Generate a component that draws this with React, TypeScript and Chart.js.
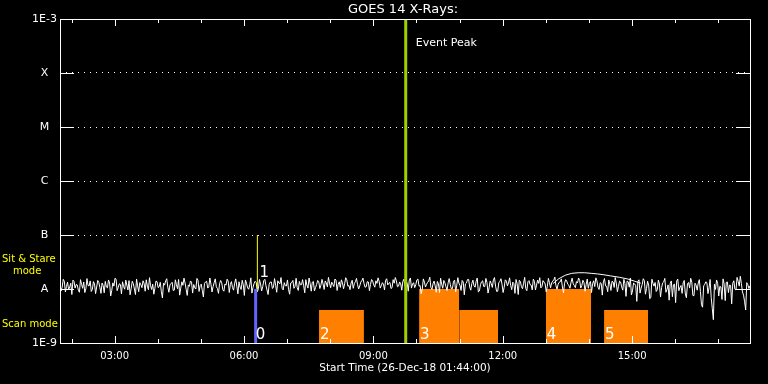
import { useEffect, useRef } from 'react';
import { Chart, registerables } from 'chart.js';

Chart.register(...registerables);

// ---- Time axis (hours of 26-Dec-18) ----
const START_HOUR = 1 + 44 / 60;
const END_HOUR = START_HOUR + 16;
const SAMPLE_STEP_HOURS = 0.05;
const FLUX_UNIT = 1e-9;

// GOES flux samples (units of 1e-9 W/m^2), every 3 minutes from 01:44
const FLUX_SAMPLES = [
  12.5, 10.8, 13.9, 11.2, 9.6, 12.8, 14.6, 10.4, 11.9, 8.7, 12.2, 13.5, 10.1, 11.6, 14.1, 9.8, 12.4, 10.9, 13.2, 8.3,
  11.7, 13.8, 10.5, 12.9, 9.4, 11.3, 15.2, 10.7, 12.1, 13.6, 9.9, 11.8, 14.3, 10.2, 12.6, 7.9, 11.4, 13.1, 10.6, 12.7,
  14.8, 9.7, 11.5, 12.3, 10.3, 13.7, 11.0, 8.9, 12.8, 14.2, 10.8, 11.9, 13.3, 9.5, 12.0, 15.0, 10.4, 11.7, 12.9, 7.6,
  11.2, 13.4, 12.1, 10.0, 14.5, 11.6, 9.3, 12.7, 13.9, 10.9, 12.3, 11.1, 15.4, 10.2, 12.5, 13.0, 9.1, 11.8, 14.0, 12.2,
  10.6, 12.8, 11.3, 13.6, 9.8, 12.0, 14.7, 10.5, 11.9, 8.4, 12.6, 13.2, 10.1, 12.4, 11.0, 15.1, 9.6, 12.2, 13.5, 10.8,
  11.7, 14.2, 12.5, 10.3, 13.1, 11.4, 9.7, 12.9, 14.4, 11.2, 10.6, 13.8, 12.0, 11.5, 14.9, 10.4, 12.7, 13.3, 9.2, 12.1,
  13.6, 11.8, 12.4, 14.1, 10.9, 12.8, 13.4, 11.1, 14.6, 12.2, 10.7, 13.0, 12.5, 14.8, 11.6, 12.9, 10.3, 13.7, 12.0, 11.4,
  14.3, 12.6, 11.0, 13.5, 12.2, 14.0, 10.8, 12.7, 13.9, 11.5, 12.3, 14.5, 11.9, 13.2, 10.6, 12.8, 14.2, 11.3, 12.5, 13.8,
  11.2, 12.9, 14.7, 10.4, 13.1, 12.0, 15.3, 11.6, 9.9, 13.4, 12.2, 14.1, 10.7, 12.6, 11.4, 13.8, 8.6, 12.3, 14.4, 11.0,
  13.0, 12.1, 10.2, 14.6, 11.7, 12.8, 9.4, 13.5, 12.4, 15.0, 10.9, 12.7, 11.5, 13.9, 8.8, 12.0, 14.2, 11.1, 13.3, 10.5,
  12.6, 14.8, 11.3, 9.1, 13.7, 12.2, 10.8, 14.0, 12.9, 11.6, 13.4, 8.3, 12.5, 14.5, 11.0, 12.8, 10.2, 13.6, 12.1, 9.6,
  13.9, 11.8, 12.7, 10.5, 14.3, 12.4, 11.2, 13.1, 12.9, 14.7, 11.5, 12.2, 13.6, 10.9, 12.8, 14.1, 11.7, 13.3, 12.5, 10.6,
  12.9, 14.4, 11.6, 13.2, 12.0, 10.3, 13.8, 12.6, 11.1, 14.2, 9.8, 12.7, 13.5, 11.4, 8.9, 12.3, 13.9, 10.7, 12.8, 11.2,
  13.4, 9.5, 12.6, 14.0, 10.8, 7.8, 12.9, 11.5, 13.7, 8.4, 12.1, 14.3, 10.2, 11.8, 6.9, 12.7, 13.2, 9.7, 12.4, 10.6,
  13.6, 8.7, 11.9, 12.8, 7.2, 12.3, 14.1, 9.3, 11.6, 13.0, 8.1, 12.5, 10.4, 13.4, 7.5, 11.8, 12.9, 9.0, 4.6, 12.2,
  13.1, 10.5, 7.0, 2.7, 9.8, 12.7, 11.2, 6.4, 12.4, 13.3, 8.6, 11.7, 12.8, 9.9, 16.4, 11.3, 12.6, 7.7, 4.1, 12.0, 11.5,
];

// In-between samples (offset by 1.5 minutes), same units
const FLUX_SAMPLES_MID = [
  9.2, 15.1, 8.8, 13.4, 11.0, 7.9, 13.8, 12.1, 9.5, 14.9, 10.3, 8.6, 15.6, 11.4, 9.0, 13.7, 8.2, 14.4, 10.7, 12.9,
  8.5, 10.9, 14.7, 7.4, 13.0, 15.8, 9.3, 12.5, 8.1, 11.1, 14.6, 9.6, 7.8, 13.9, 10.0, 15.3, 8.9, 12.0, 14.2, 9.1,
  11.3, 16.2, 9.8, 8.0, 14.0, 10.6, 13.3, 6.8, 11.8, 15.5, 8.7, 12.6, 9.4, 14.8, 10.1, 7.7, 13.6, 15.9, 9.9, 11.9,
  14.1, 8.4, 10.5, 15.7, 9.0, 12.3, 7.1, 13.5, 10.4, 16.0, 8.8, 13.1, 11.0, 8.3, 14.4, 9.7, 12.4, 15.2, 8.6, 13.7,
  9.5, 15.4, 8.1, 10.9, 14.5, 7.6, 12.8, 9.9, 16.1, 10.7, 13.9, 8.9, 15.0, 9.2, 14.3, 11.6, 7.9, 13.4, 10.2, 15.6,
  8.7, 12.9, 16.3, 9.6, 11.5, 14.7, 8.0, 13.2, 10.3, 15.8, 9.4, 12.0, 14.9, 8.5, 11.8, 16.0, 9.1, 13.8, 10.6, 14.4,
  10.2, 15.1, 9.8, 13.0, 16.4, 10.5, 12.2, 15.3, 9.4, 13.6, 14.8, 10.1, 16.2, 11.3, 9.7, 14.5, 12.6, 15.7, 10.0, 13.4,
  15.9, 10.8, 13.7, 9.3, 15.0, 11.9, 14.2, 16.1, 10.4, 13.1, 9.6, 15.5, 12.8, 10.2, 14.9, 16.3, 11.0, 13.5, 9.5, 15.2,
  13.8, 9.1, 16.0, 12.4, 10.6, 14.7, 11.3, 8.2, 15.4, 10.9, 13.3, 16.5, 9.8, 14.0, 8.7, 12.5, 15.8, 10.3, 13.0, 9.4,
  15.6, 10.0, 13.9, 8.9, 16.2, 11.7, 14.4, 7.8, 12.9, 15.1, 9.5, 14.6, 10.8, 16.0, 9.2, 13.6, 11.1, 15.7, 8.4, 14.1,
  10.7, 16.3, 9.0, 13.2, 15.5, 8.6, 14.8, 11.4, 16.1, 9.7, 12.6, 15.0, 7.9, 13.8, 10.1, 16.4, 9.3, 14.3, 11.8, 15.2,
  9.6, 14.6, 16.2, 11.1, 13.4, 8.8, 15.7, 10.5, 14.0, 16.6, 9.9, 13.3, 15.4, 8.5, 14.9, 12.2, 10.3, 15.9, 11.6, 13.7,
  16.0, 10.4, 14.5, 9.1, 15.3, 12.7, 8.6, 14.2, 16.1, 10.8, 13.1, 7.7, 15.6, 11.2, 14.7, 9.4, 13.5, 16.3, 8.9, 14.0,
  10.9, 15.1, 7.3, 13.6, 16.0, 9.2, 12.4, 5.9, 14.8, 10.4, 15.5, 8.0, 13.9, 6.6, 15.2, 11.3, 9.0, 14.6, 7.1, 13.0,
  15.7, 9.8, 6.2, 14.1, 12.0, 5.6, 15.3, 10.7, 8.3, 14.4, 6.9, 13.2, 15.8, 7.6, 12.8, 9.5, 14.9, 5.1, 11.4, 13.6,
  8.2, 15.0, 4.4, 12.3, 14.7, 7.4, 10.9, 15.4, 6.1, 13.5, 11.8, 5.3, 14.2, 9.6, 13.9, 17.2, 8.8, 5.8, 13.1, 10.2,
];

// Smoother second channel hump (hours, 1e-9 W/m^2)
const BUMP_HOURS = [13.16, 13.3, 13.45, 13.6, 13.75, 13.9, 14.05, 14.2, 14.35, 14.5, 14.7, 14.9, 15.05, 15.2];
const BUMP_FLUX = [12.5, 15.5, 18.0, 19.5, 20.0, 20.0, 19.5, 19.0, 18.3, 17.5, 16.5, 15.3, 14.0, 12.8];

// Observation blocks (orange)
const SIT_STARE_LEVEL = 1e-8;
const SCAN_LEVEL = 4.1e-9;
const BLOCK_START = [7.74, 10.06, 10.99, 13.0, 14.35];
const BLOCK_END = [8.78, 10.99, 11.89, 14.05, 15.37];
const BLOCK_LEVEL = [SCAN_LEVEL, SIT_STARE_LEVEL, SCAN_LEVEL, SIT_STARE_LEVEL, SCAN_LEVEL];

// Event markers
const EVENT_LABELS = ['0', '1', '2', '3', '4', '5'];
const EVENT_HOURS = [6.27, 6.36, 7.76, 10.08, 13.02, 14.37];
const EVENT_LABEL_FLUX = [1.19e-9, 1.67e-8, 1.19e-9, 1.19e-9, 1.19e-9, 1.19e-9];
const BLUE_MARK_HOUR = 6.27;
const YELLOW_MARK_HOUR = 6.31;
const PEAK_HOUR = 9.75;

// Axes
const Y_TICK_VALUES = [1e-9, 1e-8, 1e-7, 1e-6, 1e-5, 1e-4, 1e-3];
const Y_TICK_LABELS = ['1E-9', 'A', 'B', 'C', 'M', 'X', '1E-3'];
const Y_GRID_VALUES = [1e-7, 1e-6, 1e-5, 1e-4];
const X_TICK_HOURS = [2, 3, 4, 5, 6, 7, 8, 9, 10, 11, 12, 13, 14, 15, 16, 17];
const X_LABEL_HOURS = [3, 6, 9, 12, 15];
const X_TICK_LABELS = ['03:00', '06:00', '09:00', '12:00', '15:00'];

const TITLE = 'GOES 14 X-Rays:';
const FONT = 'DejaVu Sans';
const ORANGE = '#FF8000';

const decorPlugin = {
  id: 'decor',
  afterDatasetsDraw(chart: any) {
    const { ctx, chartArea, scales } = chart;
    const { left, right, top, bottom } = chartArea;
    const x = scales.x;
    const y = scales.y;
    ctx.save();
    ctx.strokeStyle = '#ffffff';
    ctx.lineWidth = 1;
    ctx.strokeRect(left + 0.5, top + 0.5, right - left, bottom - top);
    ctx.beginPath();
    X_TICK_HOURS.forEach((h) => {
      const px = Math.round(x.getPixelForValue(h)) + 0.5;
      const len = X_LABEL_HOURS.includes(h) ? 7 : 4;
      ctx.moveTo(px, bottom);
      ctx.lineTo(px, bottom - len);
      ctx.moveTo(px, top);
      ctx.lineTo(px, top + len);
    });
    Y_TICK_VALUES.forEach((v) => {
      const py = Math.round(y.getPixelForValue(v)) + 0.5;
      ctx.moveTo(left, py);
      ctx.lineTo(left + 14, py);
      ctx.moveTo(right - 14, py);
      ctx.lineTo(right, py);
    });
    ctx.stroke();

    // title
    ctx.fillStyle = '#ffffff';
    ctx.font = `13px "${FONT}"`;
    ctx.textAlign = 'center';
    ctx.textBaseline = 'middle';
    ctx.fillText(TITLE, (left + right) / 2 - 2, top - 9);

    // event number labels
    ctx.font = `15px "${FONT}"`;
    ctx.textAlign = 'left';
    ctx.textBaseline = 'alphabetic';
    EVENT_LABELS.forEach((t, i) => {
      ctx.fillText(t, x.getPixelForValue(EVENT_HOURS[i]), y.getPixelForValue(EVENT_LABEL_FLUX[i]));
    });

    // Event Peak
    ctx.font = `11px "${FONT}"`;
    ctx.textBaseline = 'middle';
    ctx.fillText('Event Peak', x.getPixelForValue(PEAK_HOUR) + 10, top + 24);

    // mode labels
    const aPx = y.getPixelForValue(SIT_STARE_LEVEL);
    ctx.fillStyle = '#FFFF00';
    ctx.font = `10px "${FONT}"`;
    ctx.fillText('Sit & Stare', 2, aPx - 30);
    ctx.fillText('mode', 13, aPx - 18);
    ctx.fillText('Scan mode', 2, y.getPixelForValue(SCAN_LEVEL) + 14);
    ctx.restore();
  },
};

export default function App() {
  const ref = useRef<HTMLCanvasElement | null>(null);
  useEffect(() => {
    document.body.style.margin = '0';
    document.body.style.background = '#000';
    const canvas = ref.current;
    if (!canvas) return;

    const noise: { x: number; y: number }[] = [];
    FLUX_SAMPLES.forEach((v, i) => {
      noise.push({ x: START_HOUR + i * SAMPLE_STEP_HOURS, y: v * FLUX_UNIT });
      if (i < FLUX_SAMPLES_MID.length) {
        noise.push({ x: START_HOUR + (i + 0.5) * SAMPLE_STEP_HOURS, y: FLUX_SAMPLES_MID[i] * FLUX_UNIT });
      }
    });
    const bump = BUMP_HOURS.map((h, i) => ({ x: h, y: BUMP_FLUX[i] * FLUX_UNIT }));

    const blockSets = BLOCK_START.map((s, i) => ({
      data: [
        { x: s, y: BLOCK_LEVEL[i] },
        { x: BLOCK_END[i], y: BLOCK_LEVEL[i] },
      ],
      borderWidth: 0,
      borderColor: ORANGE,
      backgroundColor: ORANGE,
      fill: 'start',
      pointRadius: 0,
      order: 10,
    }));

    const chart = new Chart(canvas, {
      type: 'line',
      data: {
        datasets: [
          ...blockSets,
          {
            data: noise,
            borderColor: '#ffffff',
            borderWidth: 1,
            pointRadius: 0,
            tension: 0,
            fill: false,
            order: 5,
          },
          {
            data: bump,
            borderColor: '#ffffff',
            borderWidth: 1,
            pointRadius: 0,
            tension: 0,
            fill: false,
            order: 5,
          },
          {
            data: [
              { x: BLUE_MARK_HOUR, y: 1e-9 },
              { x: BLUE_MARK_HOUR, y: 1e-8 },
            ],
            borderColor: '#6464FF',
            borderWidth: 3,
            pointRadius: 0,
            fill: false,
            order: 2,
          },
          {
            data: [
              { x: YELLOW_MARK_HOUR, y: 1e-8 },
              { x: YELLOW_MARK_HOUR, y: 1e-7 },
            ],
            borderColor: '#FFFF00',
            borderWidth: 1,
            pointRadius: 0,
            fill: false,
            order: 2,
          },
          {
            data: [
              { x: PEAK_HOUR, y: 1e-9 },
              { x: PEAK_HOUR, y: 1e-3 },
            ],
            borderColor: '#A0D000',
            borderWidth: 3,
            pointRadius: 0,
            fill: false,
            order: 1,
          },
        ] as any,
      },
      options: {
        animation: false,
        responsive: false,
        events: [],
        layout: { padding: { left: 0, right: 18, top: 19, bottom: 0 } },
        plugins: {
          legend: { display: false },
          tooltip: { enabled: false },
          title: { display: false },
        },
        scales: {
          x: {
            type: 'linear',
            min: START_HOUR,
            max: END_HOUR,
            afterFit: (s: any) => {
              s.height = 41;
            },
            afterBuildTicks: (s: any) => {
              s.ticks = X_TICK_HOURS.map((v) => ({ value: v }));
            },
            grid: { display: false, drawTicks: false },
            border: { display: false },
            ticks: {
              autoSkip: false,
              maxRotation: 0,
              padding: 7,
              color: '#ffffff',
              font: { family: FONT, size: 10 },
              callback: (v: any) => {
                const idx = X_LABEL_HOURS.indexOf(Number(v));
                return idx >= 0 ? X_TICK_LABELS[idx] : '';
              },
            },
            title: {
              display: true,
              text: 'Start Time (26-Dec-18 01:44:00)',
              color: '#ffffff',
              font: { family: FONT, size: 10.5 },
              padding: { top: 0, bottom: 9 },
            },
          },
          y: {
            type: 'logarithmic',
            min: 1e-9,
            max: 1e-3,
            afterFit: (s: any) => {
              s.width = 60;
            },
            afterBuildTicks: (s: any) => {
              s.ticks = Y_TICK_VALUES.map((v) => ({ value: v }));
            },
            grid: {
              display: true,
              drawTicks: false,
              lineWidth: 1,
              color: (c: any) =>
                c.tick && Y_GRID_VALUES.some((g) => Math.abs(g - c.tick.value) / g < 1e-6)
                  ? '#ffffff'
                  : 'rgba(0,0,0,0)',
            },
            border: { display: false, dash: [1, 5] },
            ticks: {
              padding: 3,
              crossAlign: 'center',
              color: '#ffffff',
              font: { family: FONT, size: 11 },
              callback: (v: any) => {
                const idx = Y_TICK_VALUES.findIndex((t) => Math.abs(t - Number(v)) / t < 1e-6);
                return idx >= 0 ? Y_TICK_LABELS[idx] : '';
              },
            },
          },
        },
      },
      plugins: [decorPlugin],
    } as any);
    return () => chart.destroy();
  }, []);

  return (
    <div style={{ width: 768, height: 384, background: '#000' }}>
      <canvas ref={ref} width={768} height={384} style={{ display: 'block', background: '#000' }} />
    </div>
  );
}
